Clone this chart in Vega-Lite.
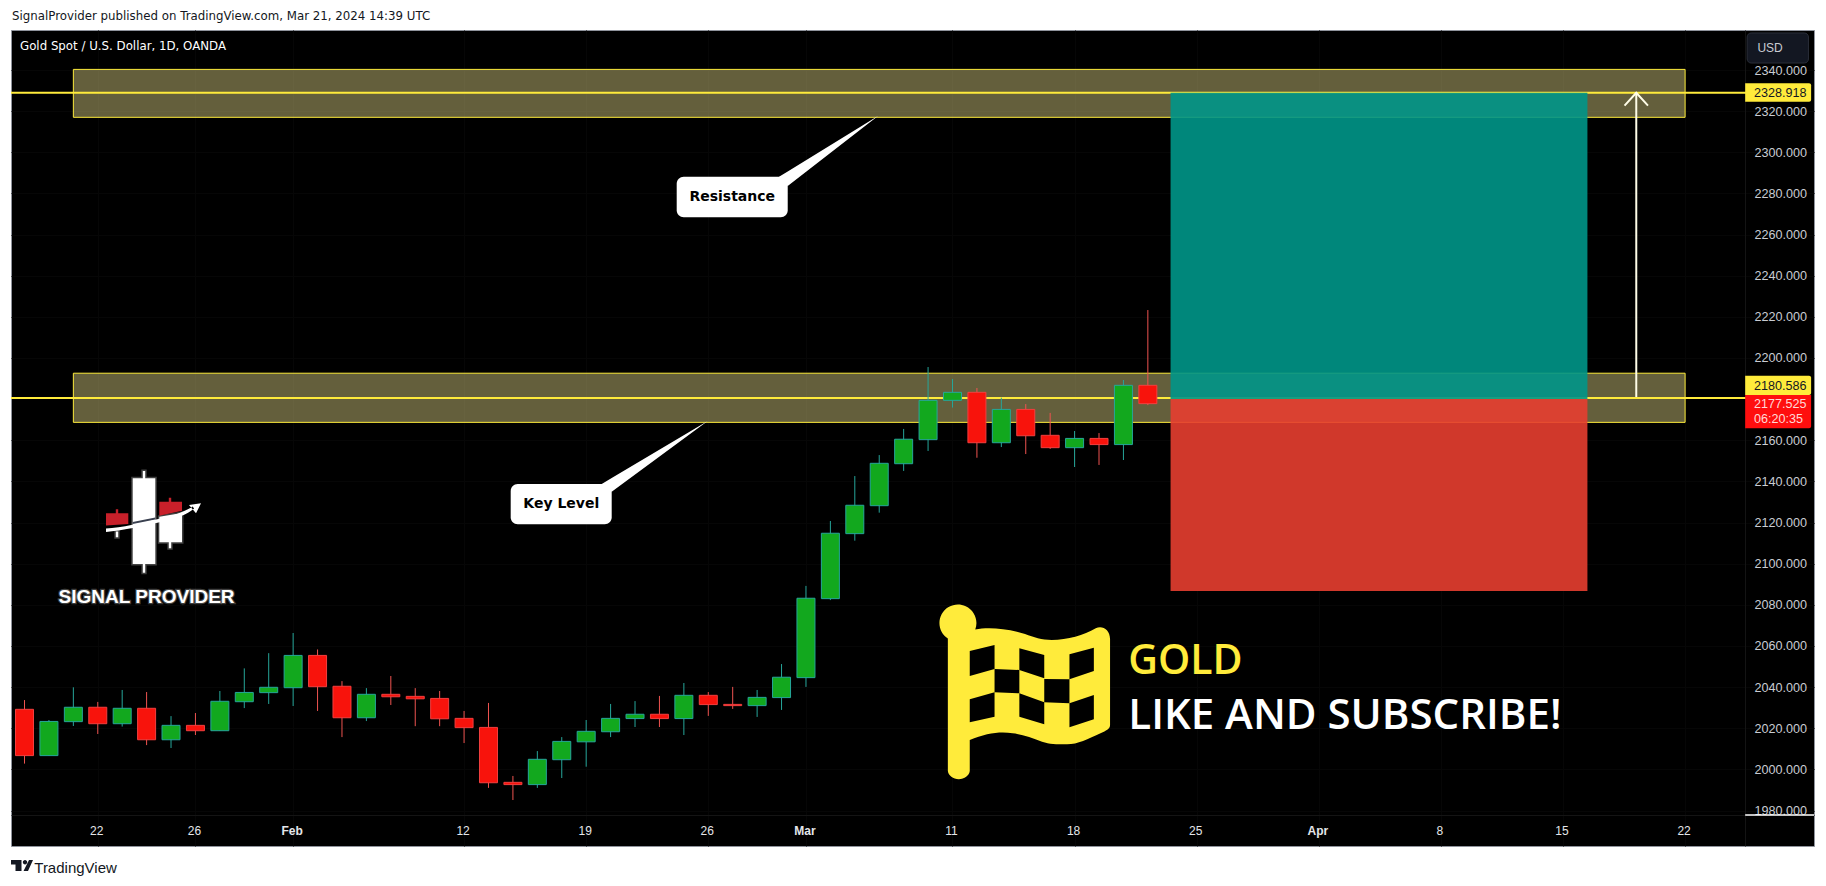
{"$schema":"https://vega.github.io/schema/vega-lite/v6.json","width":1803,"height":816,"autosize":{"type":"none"},"padding":{"left":11,"top":30,"right":12,"bottom":40},"background":"#ffffff","view":{"fill":"#000000","stroke":"#8f939c","strokeWidth":1},
"datasets":{"candles":[
{"date":"2024-01-17","session":0,"open":2029.2,"high":2033.7,"low":2002.8,"close":2006.7},
{"date":"2024-01-18","session":1,"open":2006.7,"high":2024.0,"low":2006.7,"close":2023.3},
{"date":"2024-01-19","session":2,"open":2023.2,"high":2039.9,"low":2021.1,"close":2030.2},
{"date":"2024-01-22","session":3,"open":2030.2,"high":2032.8,"low":2017.2,"close":2022.2},
{"date":"2024-01-23","session":4,"open":2022.2,"high":2038.6,"low":2020.8,"close":2029.7},
{"date":"2024-01-24","session":5,"open":2029.7,"high":2037.6,"low":2011.8,"close":2014.4},
{"date":"2024-01-25","session":6,"open":2014.4,"high":2025.9,"low":2010.4,"close":2021.4},
{"date":"2024-01-26","session":7,"open":2021.4,"high":2027.4,"low":2016.7,"close":2018.8},
{"date":"2024-01-29","session":8,"open":2018.8,"high":2038.1,"low":2018.8,"close":2033.1},
{"date":"2024-01-30","session":9,"open":2032.9,"high":2049.1,"low":2029.8,"close":2037.4},
{"date":"2024-01-31","session":10,"open":2037.3,"high":2056.5,"low":2031.8,"close":2039.9},
{"date":"2024-02-01","session":11,"open":2039.7,"high":2066.3,"low":2030.8,"close":2055.4},
{"date":"2024-02-02","session":12,"open":2055.4,"high":2058.3,"low":2028.4,"close":2040.2},
{"date":"2024-02-05","session":13,"open":2040.4,"high":2042.9,"low":2015.7,"close":2025.1},
{"date":"2024-02-06","session":14,"open":2025.1,"high":2039.5,"low":2023.5,"close":2036.5},
{"date":"2024-02-07","session":15,"open":2036.5,"high":2045.4,"low":2031.3,"close":2035.3},
{"date":"2024-02-08","session":16,"open":2035.5,"high":2039.5,"low":2021.0,"close":2034.3},
{"date":"2024-02-09","session":17,"open":2034.5,"high":2038.1,"low":2021.0,"close":2024.6},
{"date":"2024-02-12","session":18,"open":2024.8,"high":2028.4,"low":2012.8,"close":2020.3},
{"date":"2024-02-13","session":19,"open":2020.4,"high":2032.3,"low":1991.0,"close":1993.5},
{"date":"2024-02-14","session":20,"open":1993.7,"high":1996.8,"low":1985.1,"close":1992.6},
{"date":"2024-02-15","session":21,"open":1992.6,"high":2008.9,"low":1991.0,"close":2004.9},
{"date":"2024-02-16","session":22,"open":2004.7,"high":2015.7,"low":1995.8,"close":2013.6},
{"date":"2024-02-19","session":23,"open":2013.4,"high":2024.0,"low":2001.3,"close":2018.5},
{"date":"2024-02-20","session":24,"open":2018.3,"high":2031.8,"low":2015.7,"close":2024.8},
{"date":"2024-02-21","session":25,"open":2024.7,"high":2033.2,"low":2020.6,"close":2026.8},
{"date":"2024-02-22","session":26,"open":2026.8,"high":2035.7,"low":2020.6,"close":2024.7},
{"date":"2024-02-23","session":27,"open":2024.7,"high":2042.0,"low":2016.7,"close":2036.0},
{"date":"2024-02-26","session":28,"open":2036.0,"high":2037.6,"low":2026.0,"close":2031.5},
{"date":"2024-02-27","session":29,"open":2031.6,"high":2040.1,"low":2029.4,"close":2031.0},
{"date":"2024-02-28","session":30,"open":2031.0,"high":2038.6,"low":2025.5,"close":2035.0},
{"date":"2024-02-29","session":31,"open":2034.9,"high":2051.2,"low":2028.9,"close":2044.8},
{"date":"2024-03-01","session":32,"open":2044.6,"high":2089.2,"low":2040.1,"close":2083.2},
{"date":"2024-03-04","session":33,"open":2083.0,"high":2120.75,"low":2082.3,"close":2114.8},
{"date":"2024-03-05","session":34,"open":2114.6,"high":2142.6,"low":2111.2,"close":2128.4},
{"date":"2024-03-06","session":35,"open":2128.2,"high":2152.8,"low":2124.8,"close":2148.8},
{"date":"2024-03-07","session":36,"open":2148.6,"high":2165.5,"low":2145.1,"close":2160.5},
{"date":"2024-03-08","session":37,"open":2160.3,"high":2195.6,"low":2154.8,"close":2179.4},
{"date":"2024-03-11","session":38,"open":2179.4,"high":2189.8,"low":2175.9,"close":2183.3},
{"date":"2024-03-12","session":39,"open":2183.3,"high":2185.4,"low":2151.5,"close":2158.8},
{"date":"2024-03-13","session":40,"open":2158.8,"high":2180.7,"low":2156.7,"close":2175.0},
{"date":"2024-03-14","session":41,"open":2175.0,"high":2177.6,"low":2153.3,"close":2162.2},
{"date":"2024-03-15","session":42,"open":2162.4,"high":2173.3,"low":2155.8,"close":2156.4},
{"date":"2024-03-18","session":43,"open":2156.4,"high":2164.5,"low":2147.0,"close":2160.9},
{"date":"2024-03-19","session":44,"open":2160.9,"high":2163.5,"low":2148.0,"close":2157.9},
{"date":"2024-03-20","session":45,"open":2157.9,"high":2189.3,"low":2150.4,"close":2186.7},
{"date":"2024-03-21","session":46,"open":2186.7,"high":2223.3,"low":2177.1,"close":2177.8}
]},
"encoding":{
"x":{"field":"session","type":"quantitative","title":null,"scale":{"domain":[-0.553,73.278],"nice":false,"zero":false,"padding":0},
"axis":{"orient":"bottom","offset":-31,"values":[3,7,11,18,23,28,32,38,43,48,53,58,63,68],"labelExpr":"{'s3':'22','s7':'26','s11':'Feb','s18':'12','s23':'19','s28':'26','s32':'Mar','s38':'11','s43':'18','s48':'25','s53':'Apr','s58':'8','s63':'15','s68':'22'}['s'+datum.value]","labelFont":"Liberation Sans","labelFontSize":12,"labelColor":"#e4e6ea","labelFontWeight":{"condition":{"test":"datum.value==11||datum.value==32||datum.value==53","value":"bold"},"value":"normal"},"labelPadding":10,"labelOffset":-1.5,"labelOverlap":false,"labelFlush":false,"labelBound":false,"ticks":false,"domain":true,"domainColor":"#141414","grid":true,"gridColor":"#060606"}},
"y":{"field":"price","type":"quantitative","title":null,"scale":{"domain":[1962.75,2359.45],"nice":false,"zero":false,"padding":0},
"axis":{"orient":"right","offset":-69,"values":[1980,2000,2020,2040,2060,2080,2100,2120,2140,2160,2200,2220,2240,2260,2280,2300,2320,2340],"format":".3f","labelFont":"Liberation Sans","labelFontSize":12.6,"labelColor":"#c9ccd3","labelPadding":9,"labelOverlap":false,"labelBound":false,"labelFlush":false,"ticks":false,"domain":true,"domainColor":"#141414","grid":true,"gridColor":"#060606"}}
},
"layer":[
{"data":{"values":[{"zone":"Resistance","session":2,"session2":68,"price":2340.3,"price2":2317},{"zone":"Key Level","session":2,"session2":68,"price":2192.6,"price2":2168.7}]},
 "mark":{"type":"rect","fill":"#faee96","fillOpacity":0.4,"stroke":"#fdeb3b","strokeWidth":1},
 "encoding":{"x2":{"field":"session2"},"y2":{"field":"price2"}}},
{"data":{"values":[{"level":"Resistance","session":-0.553,"session2":70.5,"price":2328.918},{"level":"Key Level","session":-0.553,"session2":70.5,"price":2180.586}]},
 "mark":{"type":"rule","color":"#ffeb3b","strokeWidth":2},
 "encoding":{"x2":{"field":"session2"}}},
{"data":{"values":[{"box":"target","session":46.93,"session2":64,"price":2329,"price2":2180}]},
 "mark":{"type":"rect","fill":"#009688","fillOpacity":0.9},
 "encoding":{"x2":{"field":"session2"},"y2":{"field":"price2"}}},
{"data":{"values":[{"box":"stop","session":46.93,"session2":64,"price":2180,"price2":2086.7}]},
 "mark":{"type":"rect","fill":"#e73e30","fillOpacity":0.9},
 "encoding":{"x2":{"field":"session2"},"y2":{"field":"price2"}}},
{"data":{"name":"candles"},"mark":{"type":"rule","strokeWidth":1},
 "encoding":{"y":{"field":"low","type":"quantitative","title":null,"axis":{"orient":"right","offset":-69,"values":[1980,2000,2020,2040,2060,2080,2100,2120,2140,2160,2200,2220,2240,2260,2280,2300,2320,2340],"format":".3f","labelFont":"Liberation Sans","labelFontSize":12.6,"labelColor":"#c9ccd3","labelPadding":9,"labelOverlap":false,"labelBound":false,"labelFlush":false,"ticks":false,"domain":true,"domainColor":"#141414","grid":true,"gridColor":"#060606"}},"y2":{"field":"high"},
 "color":{"condition":{"test":"datum.close>=datum.open","value":"#26a69a"},"value":"#ef5350"}}},
{"data":{"name":"candles"},"mark":{"type":"bar","size":18,"strokeWidth":1},
 "encoding":{"y":{"field":"open","type":"quantitative","title":null,"axis":{"orient":"right","offset":-69,"values":[1980,2000,2020,2040,2060,2080,2100,2120,2140,2160,2200,2220,2240,2260,2280,2300,2320,2340],"format":".3f","labelFont":"Liberation Sans","labelFontSize":12.6,"labelColor":"#c9ccd3","labelPadding":9,"labelOverlap":false,"labelBound":false,"labelFlush":false,"ticks":false,"domain":true,"domainColor":"#141414","grid":true,"gridColor":"#060606"}},"y2":{"field":"close"},
 "fill":{"condition":{"test":"datum.close>=datum.open","value":"#12a81e"},"value":"#f8130c"},
 "stroke":{"condition":{"test":"datum.close>=datum.open","value":"#26a69a"},"value":"#f23f3f"}}},
{"data":{"values":[{"session":66,"price":2181,"price2":2328.9}]},"mark":{"type":"rule","color":"#fffde7","strokeWidth":2},"encoding":{"y2":{"field":"price2"}}},
{"data":{"values":[{"session":65.52,"price":2322.7},{"session":66,"price":2328.9},{"session":66.48,"price":2322.7}]},"mark":{"type":"line","color":"#fffde7","strokeWidth":2}},
{"data":{"values":[{"callout":"Resistance","session":26.707,"session2":31.253,"price":2288.13,"price2":2268.39},{"callout":"Key Level","session":19.909,"session2":24.045,"price":2138.74,"price2":2119.14}]},
 "mark":{"type":"rect","fill":"#ffffff","cornerRadius":7},
 "encoding":{"x2":{"field":"session2"},"y2":{"field":"price2"}}},
{"data":{"values":[{"session":30.897,"price":2288.13,"price2":2288.13},{"session":31.253,"price":2290.71,"price2":2283.61},{"session":34.962,"price":2317.78,"price2":2317.78}]},
 "mark":{"type":"area","fill":"#ffffff","interpolate":"linear"},"encoding":{"y2":{"field":"price2"}}},
{"data":{"values":[{"session":23.636,"price":2138.74,"price2":2138.74},{"session":24.045,"price":2141.62,"price2":2135},{"session":27.977,"price":2169.36,"price2":2169.36}]},
 "mark":{"type":"area","fill":"#ffffff","interpolate":"linear"},"encoding":{"y2":{"field":"price2"}}},
{"data":{"values":[{"label":"Resistance","session":28.98,"price":2278.4},{"label":"Key Level","session":21.98,"price":2129}]},
 "mark":{"type":"text","font":"DejaVu Sans","fontWeight":"bold","fontSize":14,"color":"#000000"},"encoding":{"text":{"field":"label"}}},
{"data":{"values":[{"logo":"signal provider","session":5,"price":2120}]},"mark":{"type":"point","filled":true,"size":4,"opacity":1,"fill":"#ffffff","stroke":"#ffffff","strokeOpacity":0.25,"strokeWidth":3,"shape":"M-13.9 -44.2 L-3.8 -44.2 L-3.8 -51.5 L-1.4 -51.5 L-1.4 -44.2 L8.7 -44.2 L8.7 41.5 L-1.4 41.5 L-1.4 50.2 L-3.8 50.2 L-3.8 41.5 L-13.9 41.5 Z M12.7 -5.8 L35.4 -9.5 L35.4 19.8 L24.6 19.8 L24.6 25.8 L22.2 25.8 L22.2 19.8 L12.7 19.8 Z M-30.8 9 L-28.4 9 L-28.4 14.8 L-30.8 14.8 Z"}},
{"data":{"values":[{"logo":"signal provider","session":5,"price":2120}]},"mark":{"type":"point","filled":true,"size":4,"opacity":1,"fill":"#c8202a","shape":"M-40.6 -9.2 L-30.8 -9.2 L-30.8 -13.2 L-28.4 -13.2 L-28.4 -9.2 L-18.3 -9.2 L-18.3 1.5 L-40.6 3 Z M12.7 -20.8 L22.2 -20.8 L22.2 -24.8 L24.6 -24.8 L24.6 -20.8 L35.4 -20.8 L35.4 -11.8 L12.7 -6.8 Z"}},
{"data":{"values":[{"logo":"signal provider","session":5,"price":2120}]},"mark":{"type":"point","filled":true,"size":4,"opacity":1,"fill":"#3a4050","shape":"M-13.9 -0.5 L8.7 -5 L8.7 -3 L-13.9 1.5 Z"}},
{"data":{"values":[{"logo":"signal provider","session":5,"price":2120}]},"mark":{"type":"point","filled":true,"size":4,"opacity":1,"fill":"#ffffff","shape":"M-40.6 6 C-25 5 -6 1 20 -5.5 C30 -8 40 -12 46 -16 L47.5 -14 C40 -8 30 -4 20 -2 C-5 4 -25 8 -40.6 9.5 Z M54.4 -19.2 L42.4 -17.5 L49.4 -9.2 Z"}},
{"data":{"values":[{"label":"SIGNAL PROVIDER","session":5,"price":2083.8}]},"mark":{"type":"text","font":"Liberation Sans","fontWeight":"bold","fontSize":19,"color":"#ffffff","stroke":"#ffffff","strokeOpacity":0.25,"strokeWidth":2.5},"encoding":{"text":{"field":"label"}}},
{"data":{"values":[{"graphic":"flag","session":41,"price":2040}]},"mark":{"type":"point","filled":true,"size":4,"opacity":1,"fill":"#ffeb3b","shape":"M-77.9 84 L-77.9 -48.6 A18.5 18.5 0 1 1 -50.5 -57.6 C-38 -60 -20 -59 -0.7 -53.1 C8 -50 16 -47.1 26 -47.1 C42 -47.1 58 -52 70 -58.8 C76 -62 84.3 -58 84.3 -48 L84.3 38 C84.3 42 80 44 75.3 45.9 C62 52 52 57.2 41.3 57.2 C30 57.2 24 57 16.3 54.6 C6 51 -2 47.5 -13.1 46.2 C-25 44 -40 46 -56 52.9 L-56 84 A11 9 0 0 1 -77.9 84 Z"}},
{"data":{"values":[{"graphic":"flag","session":41,"price":2040}]},"mark":{"type":"point","filled":true,"size":4,"opacity":1,"fill":"#000000","shape":"M-56 -36.1 L-31.2 -42.1 L-31.2 -18.1 L-56 -11.1 Z M-6.4 -38.8 L18.5 -32.1 L18.5 -8.8 L-6.4 -17.1 Z M43.7 -32.8 L68.1 -39.4 L68.1 -16.1 L43.7 -7.8 Z M-31.2 -18.1 L-6.4 -17.1 L-6.4 6.2 L-31.2 5.2 Z M18.5 -8.1 L43.7 -7.8 L43.7 16.2 L18.5 15.2 Z M-56 12.2 L-31.2 5.2 L-31.2 29.6 L-56 35.2 Z M-6.4 6.2 L18.5 15.2 L18.5 37.2 L-6.4 29.6 Z M43.7 16.2 L68.1 7.9 L68.1 32.2 L43.7 40.2 Z"}},
{"data":{"values":[{"label":"GOLD","session":45.2,"price":2052.3}]},"mark":{"type":"text","font":"Open Sans","fontWeight":600,"fontSize":41,"align":"left","color":"#ffeb3b"},"encoding":{"text":{"field":"label"}}},
{"data":{"values":[{"label":"LIKE AND SUBSCRIBE!","session":45.2,"price":2025.8}]},"mark":{"type":"text","font":"Open Sans","fontWeight":600,"fontSize":42,"align":"left","color":"#ffffff"},"encoding":{"text":{"field":"label"}}},
{"data":{"values":[{"tag":"2328.918","session":70.46,"session2":73.16,"price":2333.53,"price2":2324.59},{"tag":"2180.586","session":70.46,"session2":73.16,"price":2191.4,"price2":2182}]},"mark":{"type":"rect","fill":"#ffeb3b","cornerRadiusTopRight":2,"cornerRadiusBottomRight":2},"encoding":{"x2":{"field":"session2"},"y2":{"field":"price2"}}},
{"data":{"values":[{"tag":"2177.525","session":70.46,"session2":73.16,"price":2182,"price2":2165.8}]},"mark":{"type":"rect","fill":"#ff0e0e","cornerRadiusBottomRight":2},"encoding":{"x2":{"field":"session2"},"y2":{"field":"price2"}}},
{"data":{"values":[{"label":"2328.918","session":70.82,"price":2329},{"label":"2180.586","session":70.82,"price":2186.5}]},"mark":{"type":"text","font":"Liberation Sans","fontSize":12.6,"align":"left","color":"#131722"},"encoding":{"text":{"field":"label"}}},
{"data":{"values":[{"label":"2177.525","session":70.82,"price":2177.5},{"label":"06:20:35","session":70.82,"price":2170.3}]},"mark":{"type":"text","font":"Liberation Sans","fontSize":12.6,"align":"left","color":"#ffd9d6"},"encoding":{"text":{"field":"label"}}},
{"data":{"values":[{"session":70.54,"session2":73.05,"price":2358,"price2":2343.4}]},"mark":{"type":"rect","fill":"#131722","stroke":"#2a2e39","strokeWidth":1,"cornerRadius":4},"encoding":{"x2":{"field":"session2"},"y2":{"field":"price2"}}},
{"data":{"values":[{"label":"USD","session":70.96,"price":2350.7}]},"mark":{"type":"text","font":"Liberation Sans","fontSize":12,"align":"left","color":"#c9ccd3"},"encoding":{"text":{"field":"label"}}},
{"data":{"values":[{"session":70.46,"session2":73.278,"price":1977.8}]},"mark":{"type":"rule","color":"#ffffff","strokeWidth":1.5},"encoding":{"x2":{"field":"session2"}}},
{"data":{"values":[{"label":"Gold Spot / U.S. Dollar, 1D, OANDA","session":-0.184,"price":2351.7}]},"mark":{"type":"text","font":"DejaVu Sans","fontSize":11.8,"align":"left","color":"#ffffff"},"encoding":{"text":{"field":"label"}}},
{"data":{"values":[{"label":"SignalProvider published on TradingView.com, Mar 21, 2024 14:39 UTC","session":-0.51,"price":2366.25}]},"mark":{"type":"text","font":"DejaVu Sans","fontSize":11.8,"align":"left","color":"#131722"},"encoding":{"text":{"field":"label"}}},
{"data":{"values":[{"label":"TradingView","session":0.4,"price":1952.2}]},"mark":{"type":"text","font":"Liberation Sans","fontSize":15,"align":"left","color":"#131722"},"encoding":{"text":{"field":"label"}}},
{"data":{"values":[{"logo":"TradingView","session":0,"price":1952}]},"mark":{"type":"point","filled":true,"size":4,"opacity":1,"fill":"#131722","shape":"M-13.5 -8.1 L-3 -8.1 L-3 2.9 L-9 2.9 L-9 -3.6 L-13.5 -3.6 Z M-1.7 -5.8 a2.2 2.2 0 1 0 4.4 0 a2.2 2.2 0 1 0 -4.4 0 Z M4.5 -8.1 L8.5 -8.1 L3.5 2.9 L-1 2.9 Z"}}
]}
